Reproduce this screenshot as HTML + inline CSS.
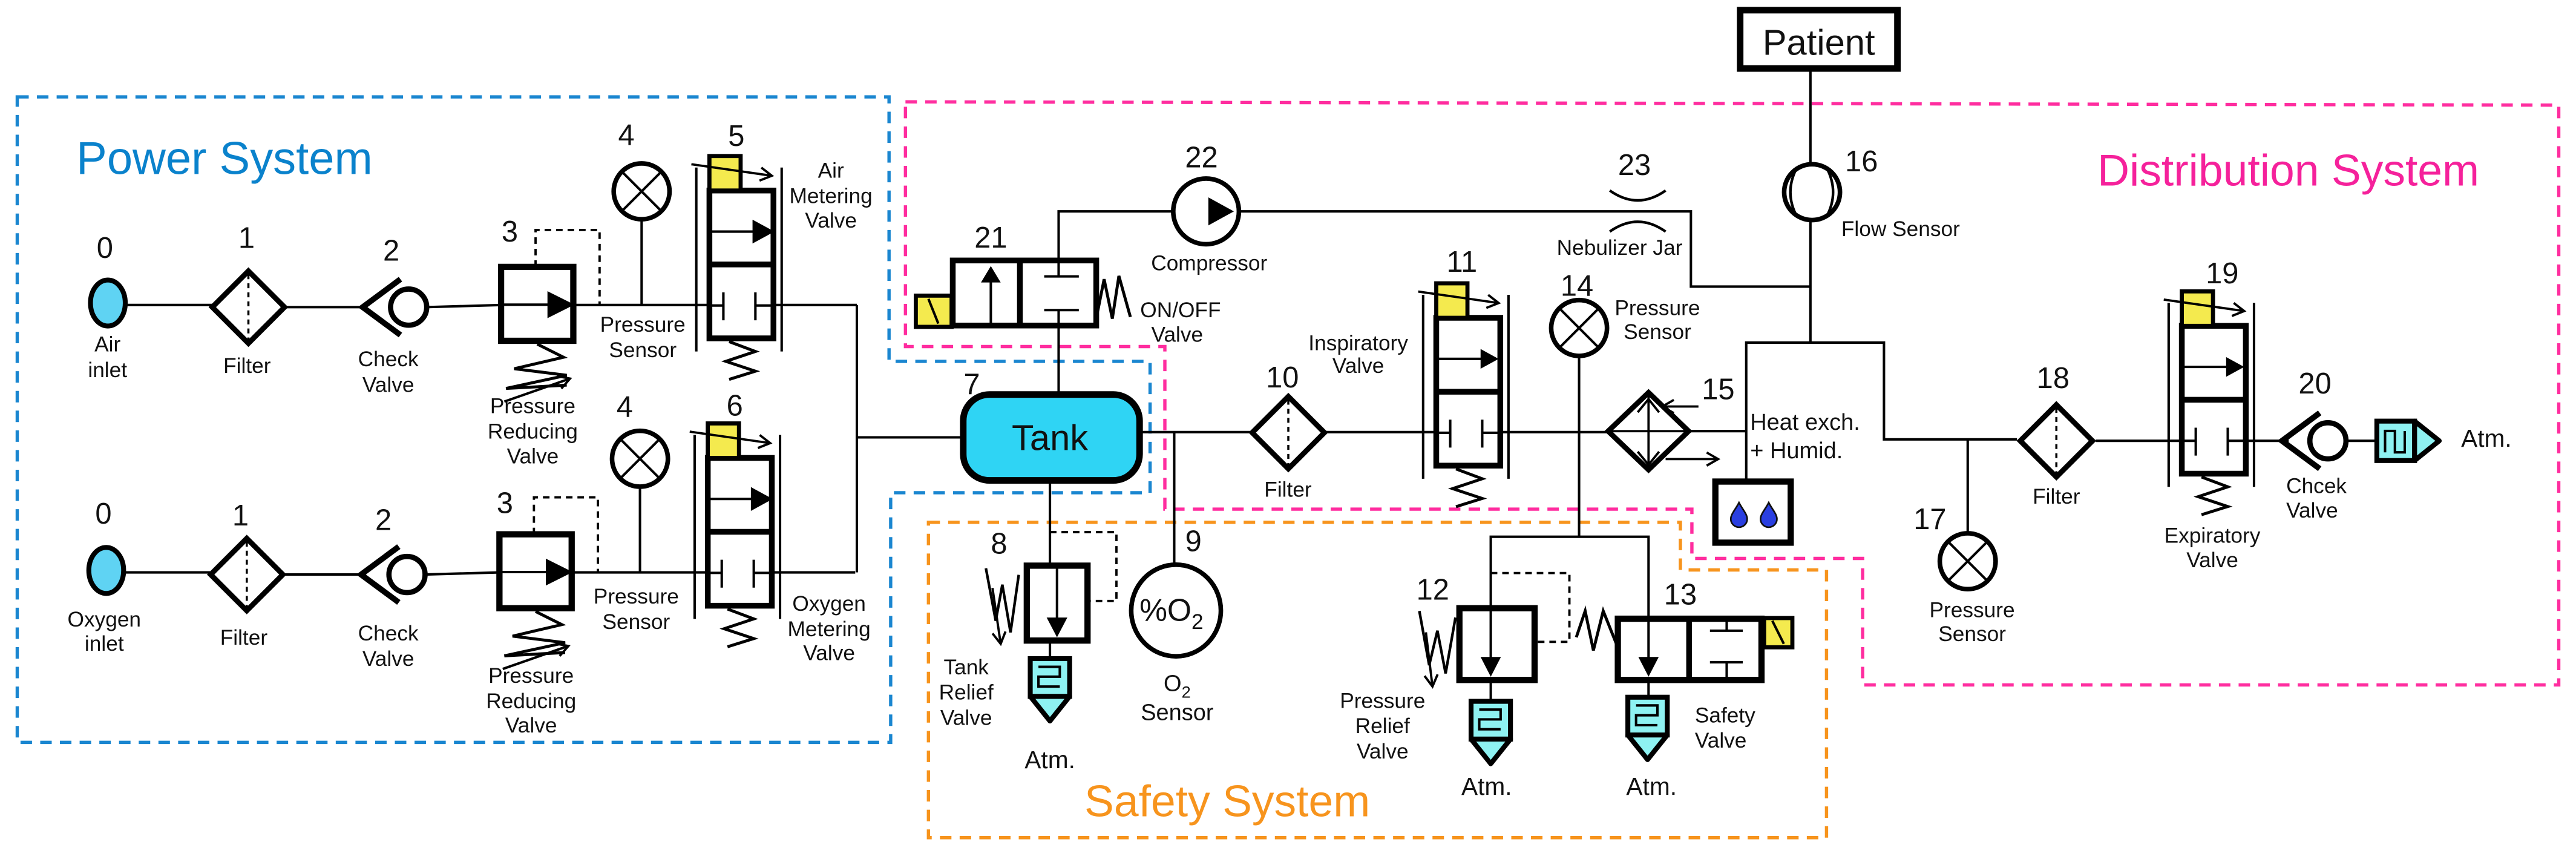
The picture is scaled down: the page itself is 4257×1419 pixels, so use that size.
<!DOCTYPE html>
<html><head><meta charset="utf-8"><style>
html,body{margin:0;padding:0;background:#fff;}
svg{display:block;}
text{font-family:"Liberation Sans",Arial,sans-serif;fill:#111;}
.n{font-size:18px;text-anchor:middle;}
.l{font-size:13px;text-anchor:middle;}
</style></head><body>
<svg width="4257" height="1419" viewBox="0 0 1568 523" xmlns="http://www.w3.org/2000/svg">
<defs>
<marker id="oa" markerWidth="10" markerHeight="10" refX="8" refY="5" orient="auto" markerUnits="userSpaceOnUse"><path d="M1,1 L8,5 L1,9" fill="none" stroke="#000" stroke-width="1.4"/></marker>
<g id="filt"><polygon points="0,-22 22,0 0,22 -22,0" fill="#fff" stroke="#000" stroke-width="3.2"/><line x1="0" y1="-20" x2="0" y2="20" stroke="#000" stroke-width="1.3" stroke-dasharray="3,2.5"/></g>
<g id="sens"><circle r="17" fill="#fff" stroke="#000" stroke-width="2.8"/><line x1="-12" y1="-12" x2="12" y2="12" stroke="#000" stroke-width="1.5"/><line x1="12" y1="-12" x2="-12" y2="12" stroke="#000" stroke-width="1.5"/></g>
<g id="chk"><circle r="11" fill="#fff" stroke="#000" stroke-width="3.2"/><polyline points="-5,-17 -28,0 -5,17" fill="none" stroke="#000" stroke-width="3.5"/></g>
<g id="mv">
<line x1="-8" y1="-14" x2="-8" y2="98" stroke="#000" stroke-width="1.5"/>
<line x1="44" y1="-14" x2="44" y2="98" stroke="#000" stroke-width="1.5"/>
<rect x="0" y="0" width="39" height="90" fill="#fff" stroke="#000" stroke-width="3.5"/>
<line x1="0" y1="45" x2="39" y2="45" stroke="#000" stroke-width="3.5"/>
<line x1="0" y1="25" x2="30" y2="25" stroke="#000" stroke-width="1.5"/>
<polygon points="27,19 38,25 27,31" fill="#000"/>
<line x1="0" y1="70" x2="8.5" y2="70" stroke="#000" stroke-width="1.5"/>
<line x1="28" y1="70" x2="39" y2="70" stroke="#000" stroke-width="1.5"/>
<line x1="8.5" y1="62" x2="8.5" y2="79" stroke="#000" stroke-width="1.5"/>
<line x1="28" y1="62" x2="28" y2="79" stroke="#000" stroke-width="1.5"/>
<rect x="0" y="-21" width="19" height="21" fill="#f4ea4e" stroke="#000" stroke-width="2.5"/>
<line x1="-11" y1="-16" x2="38" y2="-9" stroke="#000" stroke-width="1.4" marker-end="url(#oa)"/>
<polyline points="12,92 28,98 10,104 28,110 12,115" fill="none" stroke="#000" stroke-width="1.8"/>
</g>
<g id="prv">
<polyline points="21,0 21,-22.5 60,-22.5 60,23" fill="none" stroke="#000" stroke-width="1.4" stroke-dasharray="4,3"/>
<rect x="0" y="0" width="44" height="45" fill="#fff" stroke="#000" stroke-width="3.8"/>
<line x1="0" y1="23" x2="32" y2="23" stroke="#000" stroke-width="1.5"/>
<polygon points="29,16 43,23 29,30" fill="#000"/>
<polyline points="22,47 38,55 8,62 40,66 3,74 40,72" fill="none" stroke="#000" stroke-width="1.8"/>
<line x1="2" y1="82" x2="42" y2="68" stroke="#000" stroke-width="1.5" marker-end="url(#oa)"/>
</g>
<g id="sil">
<rect x="-12" y="0" width="24" height="23" fill="#8ef2f2" stroke="#000" stroke-width="3"/>
<polygon points="-12,23 12,23 0,38" fill="#8ef2f2" stroke="#000" stroke-width="3" stroke-linejoin="round"/>
<path d="M-7,5 H6 V11 H-7 V17 H6" fill="none" stroke="#000" stroke-width="1.5"/>
</g>
<path id="drop" d="M0,-8 C2,-4 5,-1 5,2 A5,5 0 0 1 -5,2 C-5,-1 -2,-4 0,-8 Z" fill="#2a3fe0" stroke="#111" stroke-width="1"/>
</defs>

<!-- system boxes -->
<path d="M10,59 H541 V220 H700 V300 H542 V452 H10 Z" fill="none" stroke="#1a86d0" stroke-width="2" stroke-dasharray="7,5"/>
<path d="M551,62 L1558,64 V417 H1134 V340 H1030 V310 H709 V211 H551 Z" fill="none" stroke="#ff2d9f" stroke-width="2" stroke-dasharray="7,5"/>
<path d="M565,318 H1023 V347 H1112 V510 H565 Z" fill="none" stroke="#f7941d" stroke-width="2" stroke-dasharray="7,5"/>
<text x="46" y="106" style="font-size:28px;fill:#0a82cc">Power System</text>
<text x="1277" y="113" style="font-size:27px;fill:#f5219b">Distribution System</text>
<text x="660" y="497" style="font-size:27px;fill:#f7941d">Safety System</text>

<!-- power rows -->
<g id="row" stroke="#000" stroke-width="1.5" fill="none">
<line x1="75" y1="185.7" x2="129" y2="185.7"/>
<line x1="172" y1="187" x2="220" y2="187"/>
<line x1="259" y1="187" x2="305" y2="185.7"/>
<line x1="348" y1="185.7" x2="431.6" y2="185.7"/>
<line x1="390.3" y1="133" x2="390.3" y2="185.7"/>
<line x1="470.3" y1="185.7" x2="521.4" y2="185.7"/>
<ellipse cx="65.2" cy="184.5" rx="10.6" ry="14" fill="#5fd3f3" stroke-width="3"/>
<use href="#filt" x="150.8" y="187"/>
<use href="#chk" x="248.4" y="187"/>
<use href="#prv" x="304.7" y="162.5"/>
<use href="#sens" x="390.3" y="116.5"/>
<use href="#mv" x="431.6" y="116"/>
</g>
<use href="#row" transform="translate(-1,162.8)"/>
<line x1="521.4" y1="185.7" x2="521.4" y2="348.5" stroke="#000" stroke-width="1.5"/>
<line x1="521.4" y1="266.3" x2="586" y2="266.3" stroke="#000" stroke-width="1.5"/>

<text class="n" x="63.4" y="157">0</text><text class="l" x="65" y="214">Air</text><text class="l" x="65" y="229.7">inlet</text>
<text class="n" x="149.7" y="151">1</text><text class="l" x="150" y="227">Filter</text>
<text class="n" x="237.8" y="158.6">2</text><text class="l" x="236" y="223">Check</text><text class="l" x="236" y="238.7">Valve</text>
<text class="n" x="310" y="147">3</text><text class="l" x="324" y="251.6">Pressure</text><text class="l" x="324" y="267.1">Reducing</text><text class="l" x="324" y="282.1">Valve</text>
<text class="n" x="381" y="88.3">4</text><text class="l" x="391" y="202">Pressure</text><text class="l" x="391" y="217.5">Sensor</text>
<text class="n" x="448" y="88.8">5</text><text class="l" x="505.6" y="108.2">Air</text><text class="l" x="505.6" y="123.7">Metering</text><text class="l" x="505.6" y="138.5">Valve</text>

<text class="n" x="62.5" y="318.8">0</text><text class="l" x="63" y="381.4">Oxygen</text><text class="l" x="63" y="396.3">inlet</text>
<text class="n" x="146" y="320">1</text><text class="l" x="148" y="392.5">Filter</text>
<text class="n" x="233" y="322.7">2</text><text class="l" x="236" y="390">Check</text><text class="l" x="236" y="405.4">Valve</text>
<text class="n" x="307" y="312.4">3</text><text class="l" x="323" y="415.7">Pressure</text><text class="l" x="323" y="431.2">Reducing</text><text class="l" x="323" y="445.9">Valve</text>
<text class="n" x="380" y="253.7">4</text><text class="l" x="387" y="367.4">Pressure</text><text class="l" x="387" y="383">Sensor</text>
<text class="n" x="447" y="253">6</text><text class="l" x="504.5" y="371.8">Oxygen</text><text class="l" x="504.5" y="387.3">Metering</text><text class="l" x="504.5" y="402">Valve</text>

<!-- lines center/right -->
<g stroke="#000" stroke-width="1.5" fill="none">
<polyline points="644.3,168.3 644.3,128.7 714,128.7"/>
<line x1="644.3" y1="188.8" x2="644.3" y2="240.2"/>
<polyline points="754,128.7 1029.4,128.7 1029.4,174.5 1102.2,174.5"/>
<line x1="1102.2" y1="41.7" x2="1102.2" y2="100"/>
<line x1="1102.2" y1="134" x2="1102.2" y2="208.6"/>
<polyline points="1063.1,293 1063.1,208.6 1147,208.6 1147,267.5 1228,267.5"/>
<line x1="693.6" y1="263.1" x2="762" y2="263.1"/>
<line x1="806" y1="263.1" x2="874.3" y2="263.1"/>
<line x1="912" y1="263.1" x2="979" y2="263.1"/>
<line x1="1028" y1="262.5" x2="1063.1" y2="262.5"/>
<line x1="1198" y1="267.5" x2="1198" y2="325"/>
<line x1="1276" y1="268.4" x2="1328.4" y2="268.4"/>
<line x1="1367.4" y1="268.4" x2="1393.5" y2="268.4"/>
<line x1="1428" y1="268.4" x2="1447" y2="268.4"/>
<line x1="961.3" y1="216.7" x2="961.3" y2="326.8"/>
<polyline points="907.5,370.3 907.5,326.8 1003.6,326.8 1003.6,376.7"/>
<line x1="714.7" y1="263.1" x2="714.7" y2="344"/>
<line x1="639" y1="292.5" x2="639" y2="344.4"/>
<line x1="639" y1="390" x2="639" y2="401"/>
<line x1="907.5" y1="414" x2="907.5" y2="427"/>
<line x1="1003.6" y1="414" x2="1003.6" y2="424"/>
</g>

<!-- Tank -->
<rect x="586.2" y="240.2" width="107.4" height="52.3" rx="16" fill="#2fd4f4" stroke="#000" stroke-width="4"/>
<text x="639" y="274" style="font-size:22px;text-anchor:middle">Tank</text>
<text class="n" x="591.4" y="240">7</text>

<!-- ON/OFF valve 21 -->
<rect x="579.8" y="158.6" width="87.4" height="39.6" fill="#fff" stroke="#000" stroke-width="3.5"/>
<line x1="620.7" y1="158.6" x2="620.7" y2="198.2" stroke="#000" stroke-width="3.5"/>
<line x1="603" y1="198" x2="603" y2="170" stroke="#000" stroke-width="1.5"/>
<polygon points="597,172 603,162 609,172" fill="#000"/>
<g stroke="#000" stroke-width="1.5"><line x1="644.3" y1="158.6" x2="644.3" y2="168.3"/><line x1="635.5" y1="168.3" x2="656.6" y2="168.3"/><line x1="635.5" y1="188.8" x2="656.6" y2="188.8"/><line x1="644.3" y1="188.8" x2="644.3" y2="198.2"/></g>
<rect x="557.3" y="180" width="21.8" height="19" fill="#f4ea4e" stroke="#000" stroke-width="2.5"/>
<line x1="565" y1="182" x2="571" y2="197" stroke="#000" stroke-width="1.5"/>
<polyline points="668,190 672,170 677,194 681,168 688,193" fill="none" stroke="#000" stroke-width="1.8"/>
<text class="n" x="603" y="150.7">21</text>
<text class="l" x="694" y="193.2" style="text-anchor:start">ON/OFF</text><text class="l" x="716.5" y="208">Valve</text>

<!-- Compressor 22 -->
<circle cx="734.1" cy="128.7" r="20" fill="#fff" stroke="#000" stroke-width="2.8"/>
<polygon points="736,121 750,128.7 736,136.4" fill="#000" stroke="#000" stroke-width="1"/>
<text class="n" x="731.3" y="102">22</text><text class="l" x="736" y="164.5">Compressor</text>

<!-- Nebulizer 23 -->
<path d="M980,116 Q997,128 1014,116" fill="none" stroke="#000" stroke-width="1.6"/>
<path d="M980,141 Q997,129 1014,141" fill="none" stroke="#000" stroke-width="1.6"/>
<text class="n" x="995" y="106.6">23</text><text class="l" x="986" y="155.1">Nebulizer Jar</text>

<!-- Patient, flow sensor -->
<rect x="1059.4" y="6.2" width="95.8" height="35.5" fill="#fff" stroke="#000" stroke-width="4"/>
<text x="1107.3" y="33.3" style="font-size:22px;text-anchor:middle">Patient</text>
<circle cx="1103.2" cy="117" r="17" fill="#fff" stroke="#000" stroke-width="2.8"/>
<path d="M1094,102 Q1086,117 1094,132 M1112,102 Q1120,117 1112,132" fill="none" stroke="#000" stroke-width="1.6"/>
<text class="n" x="1133.3" y="104.3">16</text><text class="l" x="1121" y="143.8" style="text-anchor:start">Flow Sensor</text>

<!-- filter 10, valve 11 -->
<use href="#filt" x="784.2" y="263.4"/>
<text class="n" x="780.6" y="235.8">10</text><text class="l" x="784" y="302.5">Filter</text>
<use href="#mv" x="874.3" y="193.5"/>
<text class="n" x="889.9" y="165.4">11</text>
<text class="l" x="826.8" y="213.2">Inspiratory</text><text class="l" x="826.8" y="227">Valve</text>

<!-- sensor 14 -->
<use href="#sens" x="961.3" y="199.7"/>
<text class="n" x="960" y="180">14</text>
<text class="l" x="1009" y="191.8">Pressure</text><text class="l" x="1009" y="206.4">Sensor</text>

<!-- heat exchanger 15 -->
<polygon points="1003.6,239 1028,262.5 1003.6,286 979,262.5" fill="#fff" stroke="#000" stroke-width="3.2"/>
<g stroke="#000" stroke-width="1.4" fill="none">
<line x1="1003.6" y1="241" x2="1003.6" y2="284"/>
<line x1="980" y1="262.5" x2="1027" y2="262.5"/>
<line x1="1034" y1="247.5" x2="1012" y2="247.5" marker-end="url(#oa)"/>
<line x1="1014" y1="279.5" x2="1046" y2="279.5" marker-end="url(#oa)"/>
<polyline points="997,251 1003.6,243 1010,251"/>
<polyline points="997,275 1003.6,283 1010,275"/>
</g>
<text class="n" x="1046" y="243">15</text>
<text x="1065.5" y="261.6" style="font-size:14px">Heat exch.</text>
<text x="1065.5" y="279" style="font-size:14px">+ Humid.</text>
<rect x="1044.3" y="293.2" width="45.9" height="37.2" fill="#fff" stroke="#000" stroke-width="3.8"/>
<use href="#drop" x="1058.7" y="314"/><use href="#drop" x="1076.8" y="314"/>

<!-- sensor 17, filter 18, valve 19, check 20, silencer -->
<use href="#sens" x="1198" y="341.7"/>
<text class="n" x="1175" y="322.2">17</text>
<text class="l" x="1200.7" y="375.8">Pressure</text><text class="l" x="1200.7" y="390.4">Sensor</text>
<use href="#filt" x="1252" y="268.4"/>
<text class="n" x="1250" y="236.2">18</text><text class="l" x="1252" y="306.7">Filter</text>
<use href="#mv" x="1328.4" y="198.4"/>
<text class="n" x="1353" y="172.5">19</text>
<text class="l" x="1347" y="330.4">Expiratory</text><text class="l" x="1347" y="345.3">Valve</text>
<use href="#chk" x="1417.4" y="268.4"/>
<text class="n" x="1409.5" y="239.6">20</text>
<text class="l" x="1392" y="300.2" style="text-anchor:start">Chcek</text><text class="l" x="1392" y="315.2" style="text-anchor:start">Valve</text>
<g transform="translate(1447.2,268.4) rotate(-90)"><use href="#sil"/></g>
<text x="1498.5" y="272" style="font-size:15px">Atm.</text>

<!-- Tank relief 8 -->
<polyline points="639,324 679.5,324 679.5,365.9 661.9,365.9" fill="none" stroke="#000" stroke-width="1.4" stroke-dasharray="4,3"/>
<rect x="624.9" y="344.4" width="37" height="45.6" fill="#fff" stroke="#000" stroke-width="3.8"/>
<line x1="643.3" y1="344.4" x2="643.3" y2="378" stroke="#000" stroke-width="1.5"/>
<polygon points="637,376 649.6,376 643.3,388" fill="#000"/>
<polyline points="600,346 606,378 610,356 615,385 620,350" fill="none" stroke="#000" stroke-width="1.6"/>
<line x1="604" y1="358" x2="609" y2="392" stroke="#000" stroke-width="1.4" marker-end="url(#oa)"/>
<use href="#sil" x="639" y="401"/>
<text class="n" x="608" y="337.1">8</text>
<text class="l" x="588" y="410.5">Tank</text><text class="l" x="588" y="425.8">Relief</text><text class="l" x="588" y="441.3">Valve</text>
<text x="639" y="467.8" style="font-size:15px;text-anchor:middle">Atm.</text>

<!-- O2 sensor 9 -->
<ellipse cx="715.8" cy="371.7" rx="27.3" ry="27.9" fill="#fff" stroke="#000" stroke-width="2.8"/>
<text x="713" y="378" style="font-size:19px;text-anchor:middle">%O<tspan dy="5" style="font-size:13px">2</tspan></text>
<text class="n" x="726.4" y="335.6">9</text>
<text x="716.5" y="420.8" style="font-size:14px;text-anchor:middle">O<tspan dy="4" style="font-size:10px">2</tspan></text>
<text x="716.5" y="438.4" style="font-size:14px;text-anchor:middle">Sensor</text>

<!-- PRV 12 -->
<polyline points="907.5,348.9 955.4,348.9 955.4,390.8 934.2,390.8" fill="none" stroke="#000" stroke-width="1.4" stroke-dasharray="4,3"/>
<rect x="888.4" y="370.3" width="45.8" height="43.7" fill="#fff" stroke="#000" stroke-width="3.8"/>
<line x1="907.5" y1="370.3" x2="907.5" y2="402" stroke="#000" stroke-width="1.5"/>
<polygon points="901.3,400 913.7,400 907.5,412" fill="#000"/>
<polyline points="864,372 870,405 875,384 880,410 886,376" fill="none" stroke="#000" stroke-width="1.6"/>
<line x1="868" y1="385" x2="872" y2="418" stroke="#000" stroke-width="1.4" marker-end="url(#oa)"/>
<use href="#sil" x="907.5" y="427"/>
<text class="n" x="872.2" y="365">12</text>
<text class="l" x="841.6" y="431">Pressure</text><text class="l" x="841.6" y="446.3">Relief</text><text class="l" x="841.6" y="461.9">Valve</text>
<text x="905" y="483.9" style="font-size:15px;text-anchor:middle">Atm.</text>

<!-- Safety valve 13 -->
<polyline points="959.6,388 965,372 970,396 976,372 984,392" fill="none" stroke="#000" stroke-width="1.8"/>
<rect x="984.9" y="376.7" width="87.5" height="37.3" fill="#fff" stroke="#000" stroke-width="3.8"/>
<line x1="1028.3" y1="376.7" x2="1028.3" y2="414" stroke="#000" stroke-width="3.5"/>
<line x1="1003.6" y1="376.7" x2="1003.6" y2="402" stroke="#000" stroke-width="1.5"/>
<polygon points="997.4,400 1009.8,400 1003.6,412" fill="#000"/>
<g stroke="#000" stroke-width="1.5"><line x1="1051.2" y1="376.7" x2="1051.2" y2="384"/><line x1="1041" y1="384" x2="1061" y2="384"/><line x1="1041" y1="403.2" x2="1061" y2="403.2"/><line x1="1051.2" y1="403.2" x2="1051.2" y2="414"/></g>
<rect x="1074" y="376.3" width="17.2" height="17.8" fill="#f4ea4e" stroke="#000" stroke-width="2.5"/>
<line x1="1079" y1="378" x2="1086" y2="392" stroke="#000" stroke-width="1.5"/>
<use href="#sil" x="1003" y="424.5"/>
<text class="n" x="1023" y="368">13</text>
<text class="l" x="1031.8" y="439.9" style="text-anchor:start">Safety</text><text class="l" x="1031.8" y="455.1" style="text-anchor:start">Valve</text>
<text x="1005.4" y="483.9" style="font-size:15px;text-anchor:middle">Atm.</text>
</svg>
</body></html>
